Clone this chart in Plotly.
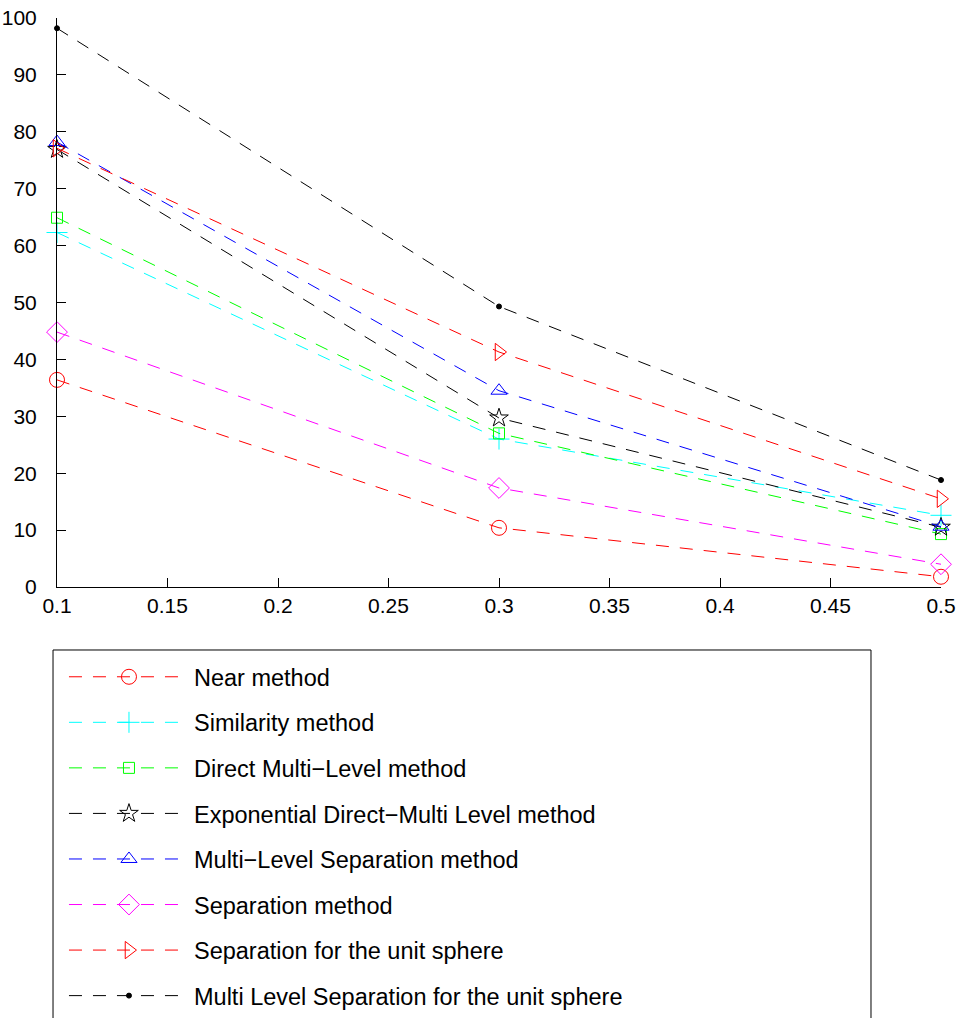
import plotly.graph_objects as go

x_vals = [0.1, 0.3, 0.5]

near = [36.4, 10.4, 1.8]
similarity = [62.3, 26.0, 12.6]
direct_ml = [64.9, 27.0, 9.3]
exp_direct_ml = [76.9, 29.7, 10.5]
ml_separation = [78.2, 34.5, 10.6]
separation = [44.8, 17.4, 4.0]
sep_unit_sphere = [77.1, 41.3, 15.5]
ml_sep_unit_sphere = [98.2, 49.3, 18.8]

names = [
    "Near method",
    "Similarity method",
    "Direct Multi\u2212Level method",
    "Exponential Direct\u2212Multi Level method",
    "Multi\u2212Level Separation method",
    "Separation method",
    "Separation for the unit sphere",
    "Multi Level Separation for the unit sphere",
]
series = [near, similarity, direct_ml, exp_direct_ml, ml_separation,
          separation, sep_unit_sphere, ml_sep_unit_sphere]
colors = ["#FF0000", "#00FFFF", "#00FF00", "#000000", "#0000FF",
          "#FF00FF", "#FF0000", "#000000"]
symbols = ["circle-open", "cross-thin-open", "square-open", "star-open",
           "triangle-up-open", "diamond-open", "triangle-right-open", "circle"]
sizes = [15, 15, 11, 14, 14, 16, 15, 5]

fig = go.Figure()
for i, (nm, ys) in enumerate(zip(names, series)):
    fig.add_trace(go.Scatter(
        x=x_vals, y=ys, name=nm, mode="lines+markers",
        legendgroup=f"g{i}",
        line=dict(color=colors[i], width=1, dash="13px,11px"),
        marker=dict(symbol=symbols[i], size=sizes[i], color=colors[i],
                    line=dict(color=colors[i], width=1)),
        cliponaxis=False,
    ))

# legend frame (drawn as a paper-space rectangle so it spans the full width)
fig.add_shape(type="rect", xref="paper", yref="paper",
              x0=-0.0045, x1=0.9208, y0=-0.1107, y1=-0.78,
              line=dict(color="black", width=1), fillcolor="rgba(0,0,0,0)", layer="below")

fig.update_layout(
    width=966, height=1018,
    margin=dict(l=57, r=25, t=18, b=431, autoexpand=False),
    paper_bgcolor="white", plot_bgcolor="white",
    font=dict(family="Liberation Sans, Arial, sans-serif", color="black"),
    xaxis=dict(range=[0.1, 0.5], tickvals=[0.1, 0.15, 0.2, 0.25, 0.3, 0.35, 0.4, 0.45, 0.5],
               ticktext=["0.1", "0.15", "0.2", "0.25", "0.3", "0.35", "0.4", "0.45", "0.5"],
               ticks="inside", ticklen=9, tickcolor="black", showline=True, linecolor="black",
               linewidth=1, showgrid=False, zeroline=False, tickfont=dict(size=21),
               automargin=False, ticklabeloverflow="allow"),
    yaxis=dict(range=[0, 100], dtick=10, ticks="inside", ticklen=9, tickcolor="black",
               showline=True, linecolor="black", linewidth=1, showgrid=False,
               zeroline=False, tickfont=dict(size=21), automargin=False,
               ticklabeloverflow="allow", ticklabelstandoff=15),
    showlegend=True,
    legend=dict(x=0.0079, y=-0.1195, xanchor="left", yanchor="top",
                borderwidth=0, bgcolor="rgba(0,0,0,0)",
                font=dict(size=23.5), tracegroupgap=12, itemwidth=120),
)

fig.write_html("out.html", config={"displayModeBar": False},
               post_script="document.body.style.margin='0';document.body.style.overflow='hidden';")
